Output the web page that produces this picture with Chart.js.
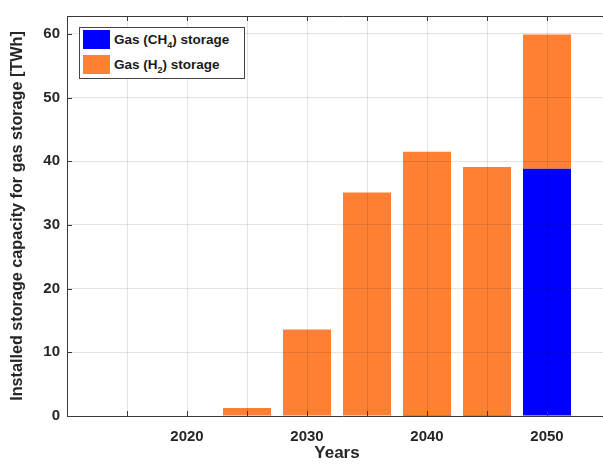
<!DOCTYPE html>
<html>
<head>
<meta charset="utf-8">
<script src="https://cdn.jsdelivr.net/npm/chart.js@4.4.1/dist/chart.umd.min.js"></script>
<style>
  html, body { margin: 0; padding: 0; background: #fff; overflow: hidden; }
  #wrap { position: relative; width: 603px; height: 465px; overflow: hidden; }
  #chart { position: absolute; left: 0; top: 0; }
  .legend {
    position: absolute; left: 79px; top: 27px; width: 164px; height: 50px;
    border: 1px solid #444; background: #fff;
    font: bold 13.5px "Liberation Sans", Arial, sans-serif; color: #1a1a1a;
  }
  .legend .row { position: absolute; left: 3px; height: 19px; line-height: 19px; white-space: nowrap; }
  .legend .sw { display: inline-block; width: 27px; height: 19px; vertical-align: top; margin-right: 4px; }
  .legend sub { font-size: 9px; line-height: 0; }
</style>
</head>
<body>
<div id="wrap">
  <canvas id="chart" width="619" height="465"></canvas>
  <div class="legend">
    <div class="row" style="top:2px"><span class="sw" style="background:#0000ff"></span>Gas (CH<sub>4</sub>) storage</div>
    <div class="row" style="top:27px"><span class="sw" style="background:#ff8033"></span>Gas (H<sub>2</sub>) storage</div>
  </div>
</div>
<script>
// values (TWh)
const years = [2015, 2020, 2025, 2030, 2035, 2040, 2045, 2050];
const ch4Storage = [0, 0, 0, 0, 0, 0.15, 0.15, 38.8];
const h2Storage = [0, 0, 1.25, 13.6, 35.1, 41.35, 38.95, 21.1];
const yTicks = [0, 10, 20, 30, 40, 50, 60];
const xLabels = [2020, 2030, 2040, 2050];

const FONT = '"Liberation Sans", Arial, sans-serif';
const TEXT = '#262626';

// MATLAB-like box with inward ticks
const axesFrame = {
  id: 'axesFrame',
  afterDraw(chart) {
    const { ctx, chartArea: a, scales: { x, y } } = chart;
    ctx.save();
    ctx.strokeStyle = '#3a3a3a';
    ctx.lineWidth = 1;
    ctx.beginPath();
    ctx.moveTo(chart.width, Math.round(a.top) + 0.5);
    ctx.lineTo(Math.round(a.left) + 0.5, Math.round(a.top) + 0.5);
    ctx.lineTo(Math.round(a.left) + 0.5, Math.round(a.bottom) + 0.5);
    ctx.lineTo(chart.width, Math.round(a.bottom) + 0.5);
    x.ticks.forEach(t => {
      const px = Math.round(x.getPixelForValue(t.value)) + 0.5;
      ctx.moveTo(px, a.bottom); ctx.lineTo(px, a.bottom - 5);
      ctx.moveTo(px, a.top); ctx.lineTo(px, a.top + 5);
    });
    y.ticks.forEach(t => {
      const py = Math.round(y.getPixelForValue(t.value)) + 0.5;
      ctx.moveTo(a.left, py); ctx.lineTo(a.left + 5, py);
    });
    ctx.stroke();
    ctx.restore();
  }
};

new Chart(document.getElementById('chart'), {
  type: 'bar',
  data: {
    datasets: [
      {
        label: 'Gas (CH4) storage',
        data: years.map((yr, i) => ({ x: yr, y: ch4Storage[i] })),
        backgroundColor: '#0000ff',
        categoryPercentage: 0.8,
        barPercentage: 1.0
      },
      {
        label: 'Gas (H2) storage',
        data: years.map((yr, i) => ({ x: yr, y: h2Storage[i] })),
        backgroundColor: '#ff8033',
        categoryPercentage: 0.8,
        barPercentage: 1.0
      }
    ]
  },
  options: {
    responsive: false,
    animation: false,
    layout: { padding: { top: 15, right: 3, left: 0, bottom: 0 } },
    plugins: { legend: { display: false }, tooltip: { enabled: false } },
    scales: {
      x: {
        type: 'linear',
        stacked: true,
        offset: false,
        min: 2010,
        max: 2055,
        afterFit: s => { s.height = 49; },
        grid: { color: 'rgba(0,0,0,0.11)', z: 1, drawTicks: false, offset: false },
        border: { display: false },
        ticks: {
          stepSize: 5,
          autoSkip: false,
          maxRotation: 0,
          padding: 12,
          color: TEXT,
          font: { family: FONT, size: 15, weight: 'bold' },
          callback: v => xLabels.includes(v) ? String(v) : ''
        },
        title: {
          display: true,
          text: 'Years',
          color: TEXT,
          padding: { top: 0, bottom: 1 },
          font: { family: FONT, size: 17, weight: 'bold' }
        }
      },
      y: {
        stacked: true,
        min: 0,
        max: 62.8,
        afterFit: s => { s.width = 67; },
        grid: { color: 'rgba(0,0,0,0.11)', z: 1, drawTicks: false },
        border: { display: false },
        afterBuildTicks: s => { s.ticks = yTicks.map(v => ({ value: v })); },
        ticks: {
          padding: 7,
          color: TEXT,
          font: { family: FONT, size: 15, weight: 'bold' }
        },
        title: {
          display: true,
          text: 'Installed storage capacity for gas storage [TWh]',
          color: TEXT,
          padding: { top: 8, bottom: 0 },
          font: { family: FONT, size: 16.2, weight: 'bold' }
        }
      }
    }
  },
  plugins: [axesFrame]
});
</script>
</body>
</html>
